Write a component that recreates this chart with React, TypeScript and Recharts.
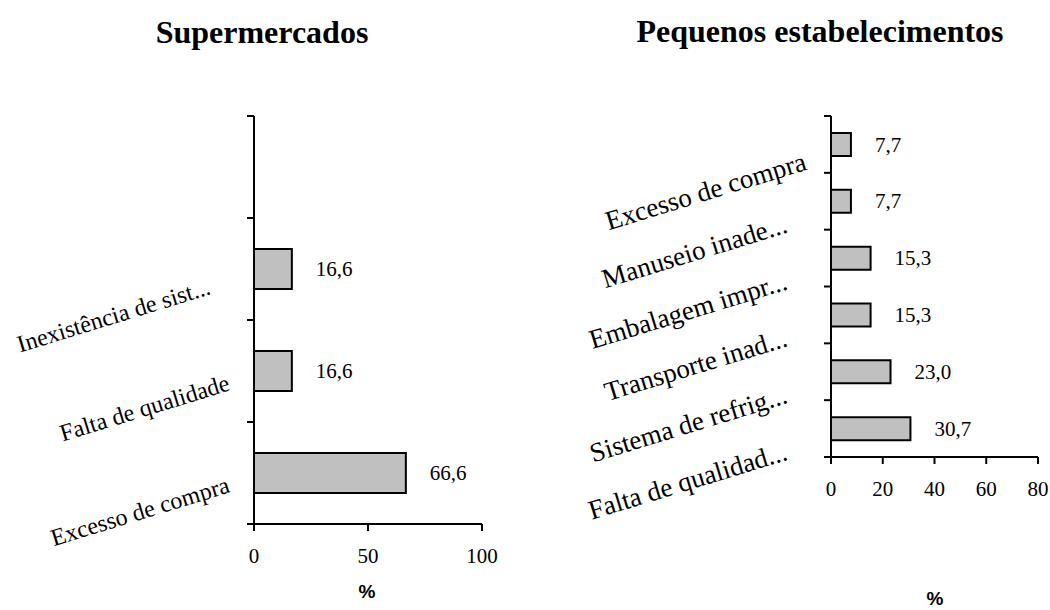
import React from "react";
import { BarChart, Bar, XAxis, YAxis, LabelList } from "recharts";

// Supermercados (de cima para baixo; a primeira faixa fica vazia)
const superCategorias = ["", "Inexistência de sist...", "Falta de qualidade", "Excesso de compra"];
const superValores = [null, 16.6, 16.6, 66.6];
const superTicks = [0, 50, 100];

// Pequenos estabelecimentos
const pequenosCategorias = [
  "Excesso de compra",
  "Manuseio inade...",
  "Embalagem impr...",
  "Transporte inad...",
  "Sistema de refrig...",
  "Falta de qualidad...",
];
const pequenosValores = [7.7, 7.7, 15.3, 15.3, 23.0, 30.7];
const pequenosTicks = [0, 20, 40, 60, 80];

const SERIF = "'Liberation Serif', 'Times New Roman', serif";
const SANS = "'Liberation Sans', Arial, sans-serif";
const CHART_W = 525;
const CHART_H = 610;

const superData = superCategorias.map((c, i) => ({ categoria: c, valor: superValores[i] }));
const pequenosData = pequenosCategorias.map((c, i) => ({ categoria: c, valor: pequenosValores[i] }));

// eslint-disable-next-line @typescript-eslint/no-explicit-any
const CategoriaTick = (props: any) => {
  const { x, y, payload, index, visibleTicksCount, band, fontSize, labelDy } = props;
  const texto: string = payload.value;
  const truncado = texto.endsWith("...");
  return (
    <g>
      <line x1={x - 7} x2={x} y1={y - band / 2} y2={y - band / 2} stroke="#000" strokeWidth={2} />
      {index === visibleTicksCount - 1 && (
        <line x1={x - 7} x2={x} y1={y + band / 2} y2={y + band / 2} stroke="#000" strokeWidth={2} />
      )}
      {texto && (
        <text
          transform={`translate(${x - 23},${y + labelDy}) rotate(-17)`}
          dx={truncado ? -20 : 0}
          textAnchor="end"
          fontSize={fontSize}
          fontFamily={SERIF}
          fill="#000"
        >
          {texto}
        </text>
      )}
    </g>
  );
};

// eslint-disable-next-line @typescript-eslint/no-explicit-any
const ValorTick = (props: any) => {
  const { x, y, payload } = props;
  return (
    <text x={x} y={y + 32} textAnchor="middle" fontSize={21} fontFamily={SERIF} fill="#000">
      {payload.value}
    </text>
  );
};

// eslint-disable-next-line @typescript-eslint/no-explicit-any
const renderValor = (props: any) => {
  const { x, y, width, height, value } = props;
  if (value == null) return null;
  return (
    <text
      x={x + width + 24}
      y={y + height / 2}
      dominantBaseline="central"
      fontSize={21}
      fontFamily={SERIF}
      fill="#000"
    >
      {Number(value).toFixed(1).replace(".", ",")}
    </text>
  );
};

interface PainelProps {
  data: { categoria: string; valor: number | null }[];
  ticks: number[];
  margin: { top: number; right: number; bottom: number; left: number };
  barSize: number;
  fontSize: number;
  labelDy: number;
}

function Painel({ data, ticks, margin, barSize, fontSize, labelDy }: PainelProps) {
  const xAxisH = 30;
  const plotH = CHART_H - margin.top - margin.bottom - xAxisH;
  const band = plotH / data.length;
  return (
    <BarChart width={CHART_W} height={CHART_H} data={data} layout="vertical" margin={margin}>
      <XAxis
        type="number"
        domain={[ticks[0], ticks[ticks.length - 1]]}
        ticks={ticks}
        height={xAxisH}
        axisLine={{ stroke: "#000", strokeWidth: 2 }}
        tickLine={{ stroke: "#000", strokeWidth: 2 }}
        tickSize={7}
        tickMargin={0}
        tick={<ValorTick />}
      />
      <YAxis
        type="category"
        dataKey="categoria"
        width={200}
        interval={0}
        axisLine={{ stroke: "#000", strokeWidth: 2 }}
        tickLine={false}
        tickSize={0}
        tickMargin={0}
        tick={(p) => <CategoriaTick {...p} band={band} fontSize={fontSize} labelDy={labelDy} />}
      />
      <Bar dataKey="valor" fill="#C0C0C0" stroke="#000" strokeWidth={2} barSize={barSize} isAnimationActive={false}>
        <LabelList dataKey="valor" content={renderValor} />
      </Bar>
    </BarChart>
  );
}

export default function App() {
  return (
    <div style={{ position: "absolute", left: 0, top: 0, width: 1050, height: 610, background: "#fff" }}>
      <div style={{ position: "absolute", left: 0, top: 0 }}>
        <Painel
          data={superData}
          ticks={superTicks}
          barSize={40}
          fontSize={24}
          labelDy={19}
          margin={{ top: 116, right: 43, bottom: 56, left: 54 }}
        />
      </div>
      <div style={{ position: "absolute", left: CHART_W, top: 0 }}>
        <Painel
          data={pequenosData}
          ticks={pequenosTicks}
          barSize={23}
          fontSize={27}
          labelDy={25}
          margin={{ top: 116, right: 12, bottom: 123, left: 106 }}
        />
      </div>
      <svg width={1050} height={610} style={{ position: "absolute", left: 0, top: 0, pointerEvents: "none" }}>
        <text x={262} y={43} textAnchor="middle" fontSize={32} fontWeight="bold" fontFamily={SERIF}>
          Supermercados
        </text>
        <text x={820} y={42} textAnchor="middle" fontSize={32} fontWeight="bold" fontFamily={SERIF}>
          Pequenos estabelecimentos
        </text>
        <text x={367} y={598} textAnchor="middle" fontSize={19} fontWeight="bold" fontFamily={SANS}>
          %
        </text>
        <text x={935} y={605} textAnchor="middle" fontSize={19} fontWeight="bold" fontFamily={SANS}>
          %
        </text>
      </svg>
    </div>
  );
}
